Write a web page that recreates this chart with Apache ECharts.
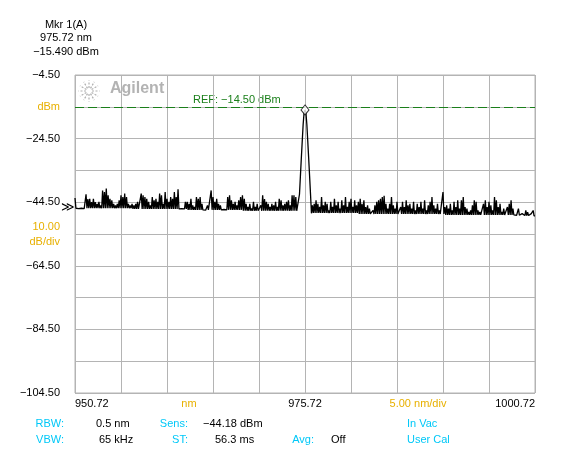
<!DOCTYPE html>
<html>
<head>
<meta charset="utf-8">
<script src="https://cdn.jsdelivr.net/npm/echarts@6/dist/echarts.min.js"></script>
<style>
  html, body { margin: 0; padding: 0; background: #fff; }
  #main { width: 571px; height: 472px; }
</style>
</head>
<body>
<div id="main"></div>
<script>
// sweep: 950.72 .. 1000.72 nm, one reading every 0.1 nm
const sweepStart = 950.72;
const sweepStep = 0.1;

// trace power (dBm)
const powerDbm = [
  -43.2,-46.4, -46.5,-46.4, -46.5,-46.4, -46.5,-46.4, -46.5,-46.4,
  -46.5,-46.4, -42.0,-46.4, -43.5,-46.4, -43.4,-46.4, -44.5,-46.4,
  -43.4,-46.4, -44.5,-46.4, -45.0,-46.4, -44.4,-46.4, -45.5,-46.4,
  -40.8,-46.4, -41.3,-46.4, -40.2,-46.4, -42.3,-46.4, -43.4,-46.4,
  -43.9,-46.4, -45.0,-46.4, -45.5,-46.4, -45.0,-46.4, -43.9,-46.4,
  -42.3,-46.4, -42.9,-46.4, -41.8,-46.4, -42.9,-46.4, -45.0,-46.4,
  -45.5,-46.4, -45.0,-46.6, -45.5,-46.6, -45.0,-46.6, -44.4,-46.6,
  -46.0,-46.6, -41.8,-46.6, -42.3,-46.6, -42.9,-46.6, -43.4,-46.6,
  -44.4,-46.6, -45.5,-46.6, -42.9,-46.6, -43.9,-46.6, -43.4,-46.6,
  -44.4,-46.6, -41.8,-46.6, -42.3,-46.6, -45.0,-46.6, -41.3,-46.6,
  -43.4,-46.6, -44.4,-46.6, -42.9,-46.6, -43.4,-46.6, -41.3,-46.6,
  -42.9,-46.6, -40.4,-46.6, -46.0,-46.6, -46.5,-46.6, -46.0,-46.6,
  -44.4,-46.6, -44.4,-46.9, -45.0,-46.9, -43.4,-46.9, -45.5,-46.9,
  -46.0,-46.9, -42.9,-46.9, -43.4,-46.9, -42.9,-46.9, -45.0,-46.9,
  -46.5,-46.9, -47.0,-46.9, -45.5,-46.9, -46.5,-46.9, -40.8,-46.9,
  -42.9,-46.9, -44.4,-46.9, -43.4,-46.9, -45.0,-46.9, -45.5,-46.9,
  -46.5,-46.9, -46.8,-46.9, -46.5,-46.9, -42.9,-46.9, -42.3,-46.9,
  -43.9,-46.9, -45.0,-46.9, -44.4,-46.9, -45.5,-46.9, -43.9,-46.9,
  -42.9,-46.9, -42.3,-47.2, -43.4,-47.2, -45.0,-47.2, -46.0,-47.2,
  -45.0,-47.2, -46.5,-47.2, -44.4,-47.2, -46.0,-47.2, -45.0,-47.2,
  -47.0,-47.2, -45.5,-47.2, -42.3,-47.2, -43.5,-47.2, -44.4,-47.2,
  -45.0,-47.2, -46.0,-47.2, -45.0,-47.2, -45.5,-47.2, -44.4,-47.2,
  -46.0,-47.2, -43.4,-47.2, -43.9,-47.2, -45.5,-47.2, -45.0,-47.2,
  -44.4,-47.2, -43.9,-47.2, -45.5,-47.2, -42.3,-47.2, -42.3,-47.2,
  -42.9,-47.2, -47.2,-47.2, -42.0,-36.3, -30.7,-25.3, -20.0,-16.3,
  -15.49,-16.3, -20.0,-25.3, -30.7,-36.3, -42.0,-48.0, -45.5,-47.9,
  -45.0,-47.9, -43.9,-47.9, -45.0,-47.9, -46.0,-47.9, -42.9,-47.9,
  -45.5,-47.9, -44.4,-47.9, -45.0,-47.9, -47.1,-47.9, -44.4,-47.9,
  -46.0,-47.9, -43.4,-47.9, -45.5,-47.9, -44.4,-47.9, -46.5,-47.9,
  -43.9,-47.9, -45.5,-47.9, -42.9,-47.9, -46.0,-47.9, -44.4,-47.9,
  -43.4,-47.9, -46.0,-47.9, -43.9,-47.9, -45.5,-47.9, -44.4,-48.2,
  -43.4,-48.2, -45.0,-48.2, -43.9,-48.2, -46.0,-48.2, -45.5,-48.2,
  -46.5,-48.2, -47.6,-48.2, -47.1,-48.2, -45.5,-48.2, -44.4,-48.2,
  -43.9,-48.2, -43.4,-48.2, -42.9,-48.2, -42.5,-48.2, -45.0,-48.2,
  -46.5,-48.2, -45.0,-48.2, -42.9,-48.2, -45.5,-48.2, -46.5,-48.2,
  -44.4,-48.2, -48.1,-48.2, -46.0,-48.2, -44.4,-48.2, -46.0,-48.2,
  -43.9,-48.2, -45.5,-48.2, -45.0,-48.2, -46.5,-48.2, -44.4,-48.2,
  -47.1,-48.2, -45.0,-48.2, -46.0,-48.2, -44.4,-48.2, -46.5,-48.2,
  -43.9,-48.2, -47.1,-48.2, -45.5,-48.2, -44.4,-48.2, -42.9,-48.2,
  -45.5,-48.2, -46.5,-48.2, -45.0,-48.2, -47.1,-48.2, -47.6,-48.2,
  -41.3,-48.2, -46.0,-48.5, -45.5,-48.5, -46.5,-48.5, -45.0,-48.5,
  -47.1,-48.5, -44.4,-48.5, -46.0,-48.5, -43.9,-48.5, -46.5,-48.5,
  -43.9,-48.5, -42.9,-48.5, -46.0,-48.5, -46.5,-48.5, -47.6,-48.5,
  -47.1,-48.5, -45.5,-48.5, -43.9,-48.5, -44.4,-48.5, -47.1,-48.5,
  -47.6,-48.5, -48.1,-48.5, -45.0,-48.5, -43.9,-48.5, -46.0,-48.5,
  -44.4,-48.5, -45.5,-48.5, -47.1,-48.5, -42.9,-48.5, -43.9,-48.5,
  -46.0,-48.5, -45.0,-48.5, -47.6,-48.5, -46.5,-48.5, -48.1,-48.5,
  -46.0,-48.5, -45.0,-48.5, -43.9,-48.5, -46.5,-48.5, -48.1,-48.5,
  -48.6,-48.6, -46.5,-48.6, -48.6,-48.6, -48.1,-48.6, -48.6,-48.7,
  -47.1,-48.7, -47.6,-48.7, -48.6,-48.7, -48.1,-48.7, -47.1,-48.8,
  -48.8
];

// marker 1 and reference level
const markerNm = 975.72;
const markerDbm = -15.49;
const refLevelDbm = -14.5;

// tick labels (one per division, from min)
const xTickLabels = ['950.72', '', '', '', '', '975.72', '', '', '', '', '1000.72'];
const yTickLabels = ['−104.50', '', '−84.50', '', '−64.50', '10.00\ndB/div', '−44.50', '', '−24.50', 'dBm', '−4.50'];
const yUnitTicks = [5, 9];

const FONT = 'Liberation Sans, Arial, sans-serif';
const GRID = '#b4b4b4';
const CYAN = '#00c8f8';
const AMBER = '#e8b000';

let chartDom = document.getElementById('main');
let myChart = echarts.init(chartDom, null, { renderer: 'canvas' });

let trace = powerDbm.map(function (v, i) {
  return [Math.round((sweepStart + i * sweepStep) * 100) / 100, v];
});

function txt(x, y, text, color, align, extra) {
  return Object.assign({
    type: 'text',
    x: x, y: y,
    style: {
      text: text, fill: color || '#000',
      font: '11px ' + FONT,
      textAlign: align || 'left', textVerticalAlign: 'middle'
    }
  }, extra || {});
}

// agilent starburst
let star = [];
for (let a = 0; a < 12; a++) {
  let ang = a * Math.PI / 6;
  star.push({
    type: 'line',
    shape: { x1: 89 + Math.cos(ang) * 3, y1: 91 + Math.sin(ang) * 3, x2: 89 + Math.cos(ang) * 10.5, y2: 91 + Math.sin(ang) * 10.5 },
    style: { stroke: '#b0b0b0', lineWidth: 1.2, lineDash: [2, 1.5] },
    silent: true
  });
}

let option = {
  animation: false,
  backgroundColor: '#fff',
  grid: { left: 75, right: 36, top: 75, bottom: 79, show: true, borderColor: GRID, borderWidth: 1 },
  xAxis: {
    type: 'value',
    min: 950.72, max: 1000.72, interval: 5,
    axisLine: { show: false },
    axisTick: { show: false },
    splitLine: { show: true, lineStyle: { color: GRID, width: 1 } },
    axisLabel: {
      margin: 5, color: '#000', fontSize: 11, fontFamily: FONT,
      showMinLabel: true, showMaxLabel: true,
      alignMinLabel: 'left', alignMaxLabel: 'right',
      formatter: function (v) {
        let i = Math.round((v - 950.72) / 5);
        return xTickLabels[i] || '';
      }
    }
  },
  yAxis: {
    type: 'value',
    min: -104.5, max: -4.5, interval: 10,
    axisLine: { show: false },
    axisTick: { show: false },
    splitLine: { show: true, lineStyle: { color: GRID, width: 1 } },
    axisLabel: {
      margin: 15, color: '#000', fontSize: 11, fontFamily: FONT,
      showMinLabel: true, showMaxLabel: true,
      formatter: function (v) {
        let i = Math.round((v + 104.5) / 10);
        let s = yTickLabels[i] || '';
        if (yUnitTicks.indexOf(i) >= 0) {
          return s.split('\n').map(function (t) { return '{u|' + t + '}'; }).join('\n');
        }
        return s;
      },
      rich: { u: { color: AMBER, fontSize: 11, fontFamily: FONT, lineHeight: 15, align: 'right' } }
    }
  },
  series: [
    {
      name: 'trace',
      type: 'line',
      data: trace,
      showSymbol: false,
      symbol: 'none',
      sampling: null,
      lineStyle: { color: '#000', width: 1.3 },
      z: 3,
      markLine: {
        silent: true,
        symbol: 'none',
        label: { show: false },
        data: [
          { yAxis: refLevelDbm, lineStyle: { color: GRID, type: 'solid', width: 1 } },
          { yAxis: refLevelDbm, lineStyle: { color: '#1a7f1a', type: [9, 4], width: 1 } }
        ]
      }
    },
    {
      name: 'marker',
      type: 'scatter',
      data: [[markerNm, markerDbm]],
      symbol: 'diamond',
      symbolSize: [8, 10],
      itemStyle: { color: '#fff', borderColor: '#000', borderWidth: 1 },
      z: 5
    }
  ],
  graphic: [
    txt(66, 25, 'Mkr 1(A)', '#000', 'center'),
    txt(66, 38, '975.72 nm', '#000', 'center'),
    txt(66, 52, '−15.490 dBm', '#000', 'center'),
    {
      type: 'text', x: 110, y: 89,
      style: { text: 'Agilent', fill: '#b3b3b3', font: 'bold 16px ' + FONT, textVerticalAlign: 'middle' }
    },
    txt(193, 100, 'REF: −14.50 dBm', '#1a7f1a'),
    {
      type: 'text', x: 61, y: 208,
      style: { text: '≫', fill: '#000', font: '13px DejaVu Sans, sans-serif', textVerticalAlign: 'middle' }
    },
    txt(189, 404, 'nm', AMBER, 'center'),
    txt(418, 404, '5.00 nm/div', AMBER, 'center'),
    txt(64, 424, 'RBW:', CYAN, 'right'),
    txt(96, 424, '0.5 nm'),
    txt(188, 424, 'Sens:', CYAN, 'right'),
    txt(203, 424, '−44.18 dBm'),
    txt(407, 424, 'In Vac', CYAN),
    txt(64, 440, 'VBW:', CYAN, 'right'),
    txt(99, 440, '65 kHz'),
    txt(188, 440, 'ST:', CYAN, 'right'),
    txt(215, 440, '56.3 ms'),
    txt(314, 440, 'Avg:', CYAN, 'right'),
    txt(331, 440, 'Off'),
    txt(407, 440, 'User Cal', CYAN)
  ].concat(star)
};

myChart.setOption(option);
window.onresize = myChart.resize;
</script>
</body>
</html>
